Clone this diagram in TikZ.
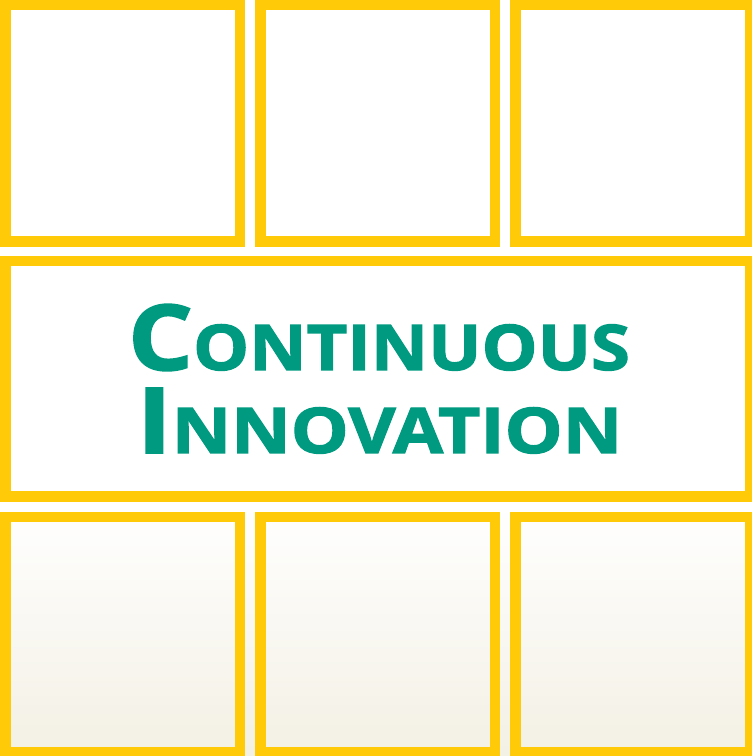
\documentclass[tikz,border=0pt]{standalone}
\usepackage{fontspec}
\newfontfamily\tfont[BoldFeatures={FakeBold=1.8}]{Open Sans}
\definecolor{ybord}{HTML}{FFCA08}
\definecolor{tealtxt}{HTML}{009A80}
\definecolor{beige}{HTML}{F3F0E4}
\begin{document}
\begin{tikzpicture}[x=1pt,y=1pt,
  box/.style={draw=ybord, line width=10.5pt, inner sep=0pt, outer sep=0pt,
    minimum width=234.5pt, minimum height=235.5pt},
  title/.style={text=tealtxt, font=\tfont\bfseries, inner sep=0pt, anchor=base, transform shape}]
\useasboundingbox (0,0) rectangle (752,756);
\begin{scope}
\clip (0,0) rectangle (752,756);
\fill[white] (0,0) rectangle (752,756);
\shade[top color=white, bottom color=beige] (0,0) rectangle (752,252);
% top row
\node[box, minimum height=236.5pt] (t1) at (122.5,632.5) {};
\node[box, minimum height=236.5pt] (t2) at (377.5,632.5) {};
\node[box, minimum height=236.5pt] (t3) at (632.5,632.5) {};
% middle
\node[box, minimum width=744.5pt, minimum height=235.5pt] (mid) at (377.5,377) {};
% bottom row
\node[box] (b1) at (122.5,121) {};
\node[box] (b2) at (377.5,121) {};
\node[box] (b3) at (632.5,121) {};
\end{scope}
\node[title, xscale=1.12] (l1) at (379,386) {\fontsize{91}{91}\selectfont C\fontsize{63}{63}\selectfont ONTINUOUS};
\node[title, xscale=1.16] (l2) at (379.5,303) {\fontsize{91}{91}\selectfont I\fontsize{63}{63}\selectfont NNOVATION};
\end{tikzpicture}
\end{document}
